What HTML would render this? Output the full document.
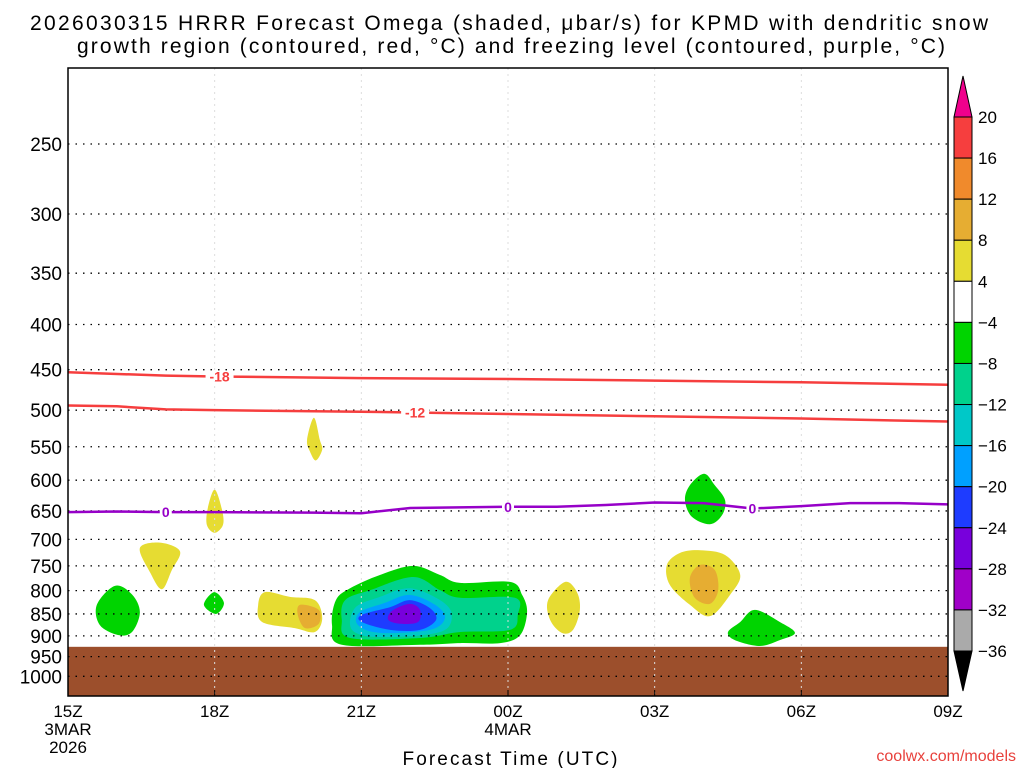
<!DOCTYPE html>
<html><head><meta charset="utf-8"><style>
html,body{margin:0;padding:0;background:#fff;width:1024px;height:768px;overflow:hidden}
svg{display:block;font-family:"Liberation Sans",sans-serif}
</style></head><body>
<svg id="chart" width="1024" height="768">
<text x="30" y="30" font-size="21" textLength="958" lengthAdjust="spacing">2026030315 HRRR Forecast Omega (shaded, μbar/s) for KPMD with dendritic snow</text>
<text x="77" y="53" font-size="21" textLength="868" lengthAdjust="spacing">growth region (contoured, red, °C) and freezing level (contoured, purple, °C)</text>
<g id="plot"></g>
<g id="cbar"></g>
<text x="510" y="765" font-size="19" text-anchor="middle" textLength="215" lengthAdjust="spacing">Forecast Time (UTC)</text>
<text x="1016" y="761" font-size="16" fill="#e8413c" text-anchor="end">coolwx.com/models</text>
</svg>
<script>
const pLevels=[250,300,350,400,450,500,550,600,650,700,750,800,850,900,950,1000];
const tHours=[0,3,6,9,12,15,18];
const tLabels=["15Z","18Z","21Z","00Z","03Z","06Z","09Z"];
const groundP=926;
const iso18H=[0,2,3,6,9,12,15,18];
const iso18P=[453,457,458,460,461,463,465,468];
const iso12H=[0,1,2,3,6,9,12,15,18];
const iso12P=[494,495,499,500,502,505,508,511,515];
const frzH=[0,1,2,3,5,6,7,8,9,10,11,12,13,14,15,16,17,18];
const frzP=[652,651,652,652,653,654,645,644,643,643,640,636,637,646,642,637,637,639];
const cbLevels=[20,16,12,8,4,-4,-8,-12,-16,-20,-24,-28,-32,-36];
const cbColors=["#f63e3e","#f08a2c","#e6ad32","#e6dc32","#ffffff","#00d400","#00d28c","#00c8c8","#00a0ff","#1e3cff","#7800dc","#a000c8","#aaaaaa"];
// shaded omega regions: [colorIndex, hours[], pressures[]]
const blobs=[
[3,[5.03,5.15,5.2,5.07,4.95,4.89],[510,540,554,570,557,540]],
[3,[3.0,3.15,3.17,3.0,2.84,2.86],[615,648,674,688,674,645]],
[3,[1.47,1.88,2.29,2.12,1.92,1.68],[716,706,722,759,797,763]],
[5,[0.96,1.31,1.47,1.31,1.02,0.65,0.59],[790,808,846,891,898,875,830]],
[5,[2.99,3.19,3.03,2.78],[803,826,850,830]],
[3,[4.03,4.54,5.05,5.2,5.05,4.64,3.97,3.89],[803,813,820,859,891,882,868,830]],
[2,[4.75,5.13,5.13,4.85,4.7],[830,841,872,882,852]],
[5,[5.48,5.77,6.38,7.06,7.61,8.02,9.04,9.29,9.39,9.25,8.84,8.02,7.2,5.6,5.4],[820,795,768,750,768,784,782,809,846,898,917,917,921,921,875]],
[6,[5.67,6.18,7.06,7.61,8.02,9.14,9.2,9.04,8.02,7.2,5.77,5.6],[820,799,772,799,815,815,852,886,891,905,905,863]],
[7,[5.87,6.38,6.99,7.61,7.85,7.61,6.38,5.81],[837,813,795,820,852,891,903,886]],
[8,[5.97,6.48,6.99,7.51,7.71,7.4,6.38,5.93],[846,826,809,830,859,886,893,875]],
[9,[6.01,6.59,6.99,7.4,7.53,7.2,6.59,6.01],[852,835,820,837,863,886,886,868]],
[10,[6.63,6.99,7.2,7.16,6.79,6.55],[843,828,841,868,872,863]],
[3,[10.17,10.41,10.47,10.33,10.1,9.86,9.82],[782,803,841,886,893,863,820]],
[5,[13.01,13.23,13.44,13.38,13.13,12.76,12.62,12.72],[590,608,632,657,673,660,632,608]],
[3,[12.93,13.44,13.75,13.54,13.13,12.72,12.31,12.25,12.52],[720,729,768,809,855,830,788,748,725]],
[2,[12.93,13.23,13.3,13.13,12.82,12.72],[748,758,799,828,815,774]],
[5,[14.05,14.56,14.87,14.56,14.15,13.64,13.5,13.75],[841,868,893,910,924,910,891,868]]
];
const L=68,R=948,T=68,B=696;
const xs=h=>L+h*(R-L)/18;
const ys=p=>144+384*Math.log(p/250);
const NS="http://www.w3.org/2000/svg";
function mk(tag,attrs,parent){const e=document.createElementNS(NS,tag);for(const k in attrs)e.setAttribute(k,attrs[k]);parent.appendChild(e);return e;}
const plot=document.getElementById('plot');
const cbar=document.getElementById('cbar');
function smoothClosed(pts){
  const n=pts.length;let d=`M${pts[0][0]},${pts[0][1]}`;
  for(let i=0;i<n;i++){const p0=pts[(i-1+n)%n],p1=pts[i],p2=pts[(i+1)%n],p3=pts[(i+2)%n];
    const c1=[p1[0]+(p2[0]-p0[0])/6,p1[1]+(p2[1]-p0[1])/6],c2=[p2[0]-(p3[0]-p1[0])/6,p2[1]-(p3[1]-p1[1])/6];
    d+=`C${c1[0]},${c1[1]} ${c2[0]},${c2[1]} ${p2[0]},${p2[1]}`;}
  return d+'Z';}
const clip=mk('clipPath',{id:'pc'},plot);mk('rect',{x:L,y:T,width:R-L,height:B-T},clip);
const g=mk('g',{'clip-path':'url(#pc)'},plot);
blobs.forEach((b,i)=>{
  const pts=b[1].map((h,j)=>[xs(h),ys(b[2][j])]);
  const e=mk('path',{d:smoothClosed(pts),fill:cbColors[b[0]]},g);
  
  
});
const gr=mk('rect',{x:L,y:ys(groundP),width:R-L,height:B-ys(groundP),fill:'#9c4f2c'},g);


pLevels.forEach(p=>{
  const y=ys(p);
  mk('line',{x1:L,x2:R,y1:y,y2:y,stroke:'#000','stroke-width':1.3,'stroke-dasharray':'1.5,6'},g);
  const t=mk('text',{x:L-6,y:y+7,'font-size':19,'text-anchor':'end'},plot);t.textContent=p;
  
  
});
tHours.forEach((h,i)=>{
  const x=xs(h);
  if(i>0&&i<tHours.length-1) mk('line',{x1:x,x2:x,y1:T,y2:B,stroke:'#ddd','stroke-width':1,'stroke-dasharray':'2,4'},g);
  mk('line',{x1:x,x2:x,y1:B,y2:B-6,stroke:'#000'},plot);
  const t=mk('text',{x:x,y:717,'font-size':17,'text-anchor':'middle'},plot);t.textContent=tLabels[i];
  
  
});
[["3MAR",0,735],["2026",0,753],["4MAR",9,735]].forEach(a=>{const t=mk('text',{x:xs(a[1]),y:a[2],'font-size':17,'text-anchor':'middle'},plot);t.textContent=a[0];
  
  });
function line(H,P,color,name,labels,lab){
  const d=H.map((h,i)=>(i?'L':'M')+xs(h)+','+ys(P[i])).join('');
  const e=mk('path',{d:d,fill:'none',stroke:color,'stroke-width':2.5},g);
  
  
  labels.forEach(h=>{let k=0;while(k<H.length-2&&H[k+1]<h)k++;
    const p=P[k]+(P[k+1]-P[k])*(h-H[k])/(H[k+1]-H[k]);const x=xs(h),y=ys(p);
    const w=lab.length*8+4;
    mk('rect',{x:x-w/2,y:y-5,width:w,height:10,fill:'#fff'},g);
    const t=mk('text',{x:x,y:y+5,'font-size':14,'font-weight':'bold','text-anchor':'middle',fill:color},g);t.textContent=lab;
    
    });
}
line(iso18H,iso18P,'#f63e3e','isotherm-minus18',[3.1],'-18');
line(iso12H,iso12P,'#f63e3e','isotherm-minus12',[7.1],'-12');
line(frzH,frzP,'#9600c8','freezing-level',[2.0,9.0,14.0],'0');
mk('rect',{x:L,y:T,width:R-L,height:B-T,fill:'none',stroke:'#000','stroke-width':1.5},plot);
// colorbar
const cx=954,cw=18,cTop=117,cBot=651,step=(cBot-cTop)/(cbLevels.length-1);
mk('path',{d:`M${cx},${cTop}L${cx+cw/2},${cTop-41}L${cx+cw},${cTop}Z`,fill:'#f0008c',stroke:'#000'},cbar);
mk('path',{d:`M${cx},${cBot}L${cx+cw/2},${cBot+40}L${cx+cw},${cBot}Z`,fill:'#000',stroke:'#000'},cbar);
cbColors.forEach((c,i)=>{const r=mk('rect',{x:cx,y:cTop+i*step,width:cw,height:step,fill:c,stroke:'#000','stroke-width':1},cbar);
  
  });
cbLevels.forEach((v,i)=>{const t=mk('text',{x:cx+cw+6,y:cTop+i*step+6,'font-size':17},cbar);t.textContent=v<0?'\u2212'+(-v):v;
  
  });
</script>
</body></html>
